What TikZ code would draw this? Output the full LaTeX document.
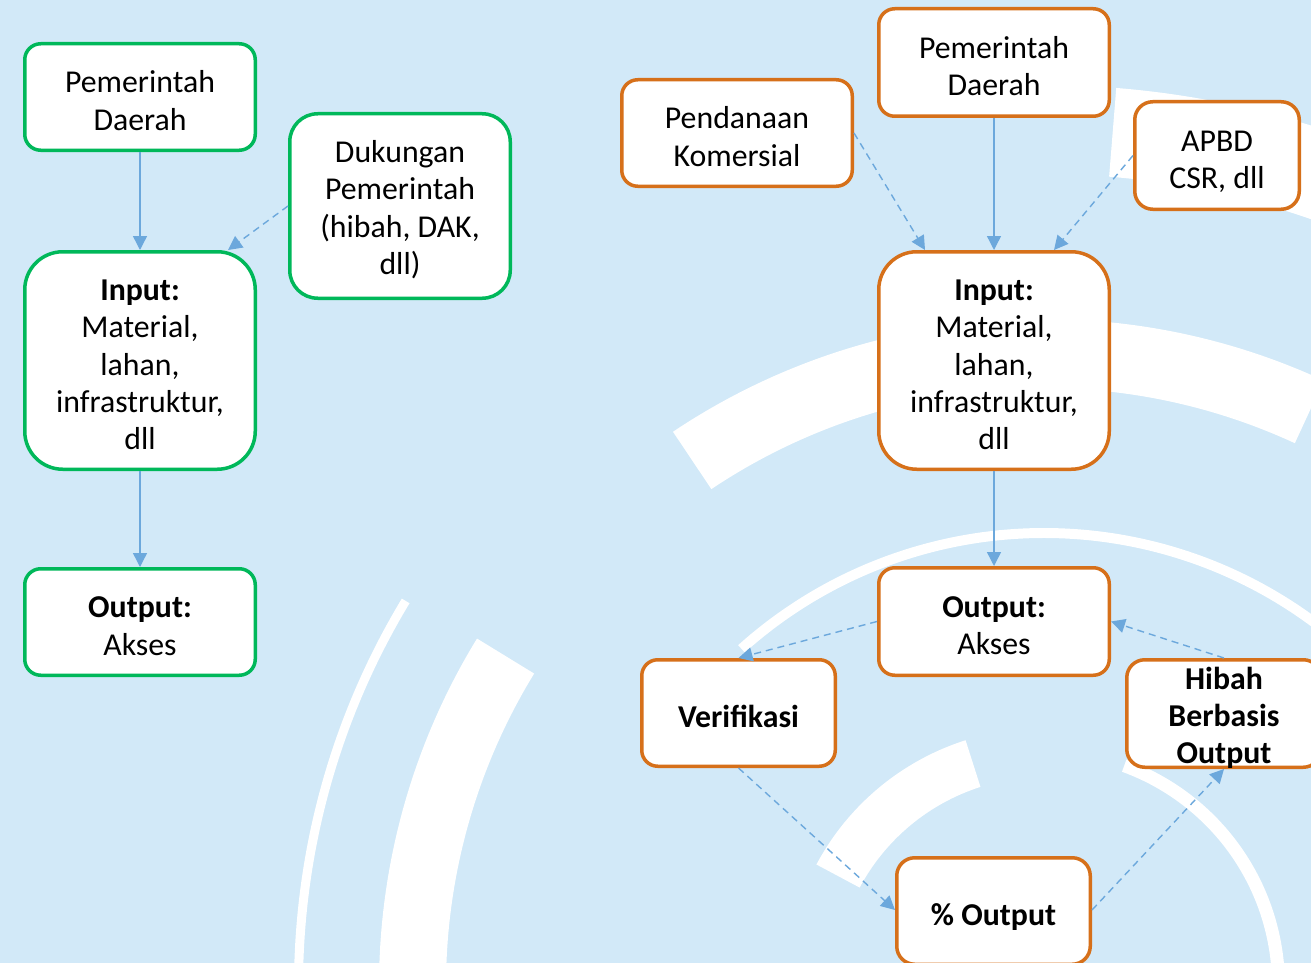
\documentclass[tikz,border=0pt]{standalone}
\usepackage{fontspec}
\setmainfont{Carlito}
\usetikzlibrary{arrows.meta}
\definecolor{bg}{RGB}{210,233,248}
\definecolor{gborder}{RGB}{0,184,90}
\definecolor{oborder}{RGB}{214,112,26}
\definecolor{arr}{RGB}{108,168,220}
\newcommand\bgsector[4]{\fill[white] (#1:#3pt) arc[start angle=#1,end angle=#2,radius=#3pt] -- (#2:#4pt) arc[start angle=#2,end angle=#1,radius=#4pt] -- cycle;}
\newcommand\topst{\rule{0pt}{37pt}}
\newcommand\botst{\rule[-8pt]{0pt}{8pt}}
\begin{document}
\begin{tikzpicture}[x=1pt,y=-1pt,
 box/.style={draw, line width=3.5pt, fill=white, align=center, inner sep=0pt, font=\fontsize{31.8}{37.4}\selectfont, text=black},
 gbox/.style={box, draw=gborder},
 obox/.style={box, draw=oborder},
 conn/.style={draw=arr, line width=1.4pt, -{Triangle[length=14pt,width=14pt]}},
 dconn/.style={conn, dash pattern=on 7pt off 5pt},
]
\fill[bg] (0,0) rectangle (1311,963);
\useasboundingbox (0,0) rectangle (1311,963);
\clip (0,0) rectangle (1311,963);
% background arcs
\begin{scope}[x=1pt,y=1pt,shift={(1044pt,-986pt)}]
\bgsector{65.2}{123.8}{598}{667}
\bgsector{148.5}{200}{598}{665}
\bgsector{148.9}{200}{741}{750}
\bgsector{40}{131.9}{448}{458}
\bgsector{107.7}{151.9}{209}{258}
\bgsector{-30}{70}{228}{241}
\bgsector{30}{85.4}{812}{901}
\end{scope}
% left diagram
\node[gbox, minimum width=230.5pt, minimum height=106.5pt, rounded corners=16pt] (pdL) at (140,97) {\topst Pemerintah\\Daerah\botst};
\node[gbox, minimum width=220.5pt, minimum height=184.5pt, rounded corners=28pt] (dukL) at (400,206) {\rule{0pt}{33pt}Dukungan\\Pemerintah\\(hibah, DAK,\\dll)\botst};
\node[gbox, minimum width=230.5pt, minimum height=217.5pt, rounded corners=38pt] (inL) at (140,360.5) {\topst\textbf{Input:}\\Material,\\lahan,\\infrastruktur,\\dll\botst};
\node[gbox, minimum width=230.5pt, minimum height=106.5pt, rounded corners=16pt] (outL) at (140,622) {\topst\textbf{Output:}\\Akses\botst};
% right diagram
\node[obox, minimum width=230.5pt, minimum height=106.5pt, rounded corners=16pt] (pend) at (737,133) {\topst Pendanaan\\Komersial\botst};
\node[obox, minimum width=230.5pt, minimum height=107.5pt, rounded corners=16pt] (pdR) at (994,62.5) {\topst Pemerintah\\Daerah\botst};
\node[obox, minimum width=164.5pt, minimum height=107.5pt, rounded corners=18pt] (apbd) at (1217,155.5) {\topst APBD\\CSR, dll\botst};
\node[obox, minimum width=230.5pt, minimum height=217.5pt, rounded corners=38pt] (inR) at (994,360.5) {\topst\textbf{Input:}\\Material,\\lahan,\\infrastruktur,\\dll\botst};
\node[obox, minimum width=230.5pt, minimum height=107.5pt, rounded corners=16pt] (outR) at (994,621.5) {\topst\textbf{Output:}\\Akses\botst};
\node[obox, minimum width=193.5pt, minimum height=106.5pt, rounded corners=16pt] (verif) at (738.5,713) {\topst\textbf{Verifikasi}\botst};
\node[obox, minimum width=194.5pt, minimum height=107.5pt, rounded corners=18pt] (hibah) at (1224,713.5) {\rule{0pt}{26pt}\smash{\textbf{Hibah}}\\\textbf{Berbasis}\\\smash{\textbf{Output}}};
\node[obox, minimum width=193.5pt, minimum height=106.5pt, rounded corners=18pt] (pct) at (993.5,911) {\topst\textbf{\% Output}\botst};
% connectors left
\draw[conn] (pdL) -- (inL);
\draw[dconn] (dukL.west) -- ([xshift=88pt]inL.north);
\draw[conn] (inL) -- (outL);
% connectors right
\draw[dconn] (pend.east) -- ([xshift=-69pt]inR.north);
\draw[conn] (pdR) -- (inR);
\draw[dconn] (apbd.west) -- ([xshift=60pt]inR.north);
\draw[conn] (inR) -- (outR);
\draw[dconn] (outR.west) -- (verif.north);
\draw[dconn] (hibah.north) -- (outR.east);
\draw[dconn] (verif.south) -- ([yshift=1pt]pct.west);
\draw[dconn] ([yshift=1pt]pct.east) -- (hibah.south);
\end{tikzpicture}
\end{document}
